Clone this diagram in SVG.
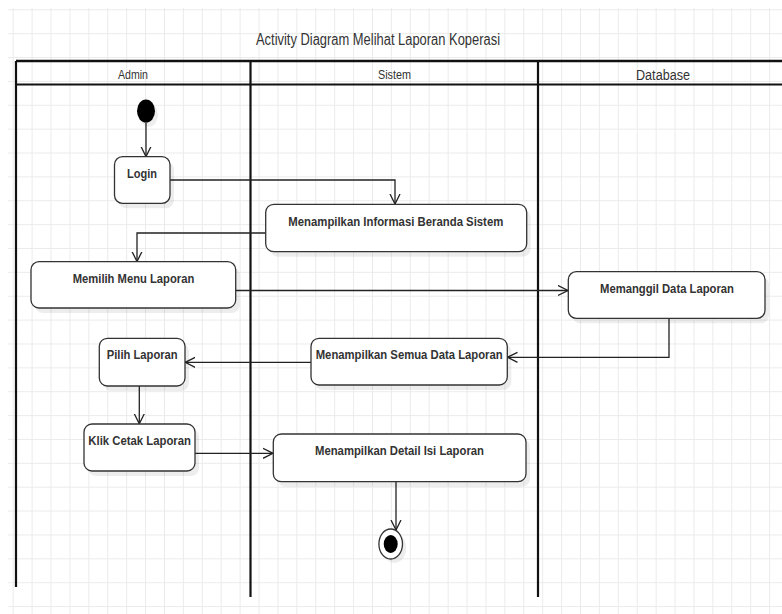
<svg xmlns="http://www.w3.org/2000/svg" width="782" height="614" viewBox="0 0 782 614">
<style>
.lane{stroke:#111;fill:none}
.box{fill:#fff;stroke:#333;stroke-width:1.3}
.shd{fill:#000;opacity:0.07}
.lbl{font-family:"Liberation Sans",Arial,sans-serif;font-weight:bold;font-size:13.5px;fill:#333;text-anchor:start}
.hdr{font-family:"Liberation Sans",Arial,sans-serif;fill:#333}
.con{stroke:#222;stroke-width:1.3;fill:none;marker-end:url(#arr)}
</style>
<defs>
<pattern id="grid" patternUnits="userSpaceOnUse" x="12.7" y="9.3" width="18.91" height="23.87">
<path d="M0.5,0 V23.87 M0,0.5 H18.91" stroke="#ebebeb" stroke-width="1" fill="none"/>
</pattern>
<marker id="arr" markerUnits="userSpaceOnUse" markerWidth="12" markerHeight="12" refX="10" refY="5" orient="auto" viewBox="0 0 12 10">
<path d="M0,0 L10,5 L0,10" fill="none" stroke="#222" stroke-width="1.3"/>
</marker>
</defs>
<rect x="0" y="0" width="782" height="614" fill="#fff"/>
<rect x="8" y="8" width="774" height="606" fill="url(#grid)"/>

<text class="hdr" x="256" y="45" font-size="16" textLength="244" lengthAdjust="spacingAndGlyphs">Activity Diagram Melihat Laporan Koperasi</text>

<g id="swimlanes">
<path class="lane" stroke-width="2.5" d="M16,61 H782"/>
<path class="lane" stroke-width="2" d="M16,84.5 H782"/>
<path class="lane" stroke-width="2.2" d="M16,61 V587"/>
<path class="lane" stroke-width="2.2" d="M250.5,61 V597"/>
<path class="lane" stroke-width="2.2" d="M538,61 V597"/>
<text class="hdr" x="118" y="79" font-size="12.5" textLength="30" lengthAdjust="spacingAndGlyphs">Admin</text>
<text class="hdr" x="378" y="79" font-size="12.5" textLength="33" lengthAdjust="spacingAndGlyphs">Sistem</text>
<text class="hdr" x="636" y="80" font-size="15.5" textLength="54" lengthAdjust="spacingAndGlyphs">Database</text>
</g>

<g id="connectors">
<path class="con" d="M146,122.5 V156.5"/>
<path class="con" d="M170,180 H395 V204"/>
<path class="con" d="M265.7,233 H137 V261.5"/>
<path class="con" d="M235.7,290.5 H568"/>
<path class="con" d="M669,318.3 V357.3 H507.5"/>
<path class="con" d="M311,362.3 H185.2"/>
<path class="con" d="M139.3,386 V423.8"/>
<path class="con" d="M195,453.3 H273"/>
<path class="con" d="M396,481.7 V530"/>
</g>

<g id="start">
<ellipse cx="149" cy="115" rx="9" ry="11.5" class="shd"/>
<ellipse cx="146" cy="111" rx="9" ry="11.5" fill="#000"/>
</g>

<g id="login">
<rect x="118.5" y="161.7" width="55.5" height="46.6" rx="8" class="shd"/>
<rect x="114.5" y="156.7" width="55.5" height="46.6" rx="8" class="box"/>
<text class="lbl" x="127" y="177.5" textLength="30" lengthAdjust="spacingAndGlyphs">Login</text>
</g>

<g id="informasi">
<rect x="269.7" y="209.3" width="261" height="47.4" rx="8" class="shd"/>
<rect x="265.7" y="204.3" width="261" height="47.4" rx="8" class="box"/>
<text class="lbl" x="288.3" y="226" textLength="215" lengthAdjust="spacingAndGlyphs">Menampilkan Informasi Beranda Sistem</text>
</g>

<g id="memilih">
<rect x="35" y="266.7" width="204.7" height="46.3" rx="8" class="shd"/>
<rect x="31" y="261.7" width="204.7" height="46.3" rx="8" class="box"/>
<text class="lbl" x="72.7" y="282.5" textLength="121.6" lengthAdjust="spacingAndGlyphs">Memilih Menu Laporan</text>
</g>

<g id="memanggil">
<rect x="572.3" y="276.7" width="196.7" height="46.6" rx="8" class="shd"/>
<rect x="568.3" y="271.7" width="196.7" height="46.6" rx="8" class="box"/>
<text class="lbl" x="600" y="292.5" textLength="134" lengthAdjust="spacingAndGlyphs">Memanggil Data Laporan</text>
</g>

<g id="semua">
<rect x="315" y="343.3" width="196.3" height="46.7" rx="8" class="shd"/>
<rect x="311" y="338.3" width="196.3" height="46.7" rx="8" class="box"/>
<text class="lbl" x="315.7" y="358.8" textLength="187" lengthAdjust="spacingAndGlyphs">Menampilkan Semua Data Laporan</text>
</g>

<g id="pilih">
<rect x="103.3" y="343.3" width="85.7" height="47.7" rx="8" class="shd"/>
<rect x="99.3" y="338.3" width="85.7" height="47.7" rx="8" class="box"/>
<text class="lbl" x="106.7" y="358.8" textLength="71" lengthAdjust="spacingAndGlyphs">Pilih Laporan</text>
</g>

<g id="klik">
<rect x="88" y="429" width="111" height="47" rx="8" class="shd"/>
<rect x="84" y="424" width="111" height="47" rx="8" class="box"/>
<text class="lbl" x="88.3" y="444.5" textLength="102.7" lengthAdjust="spacingAndGlyphs">Klik Cetak Laporan</text>
</g>

<g id="detail">
<rect x="277.3" y="439" width="252.7" height="47.7" rx="8" class="shd"/>
<rect x="273.3" y="434" width="252.7" height="47.7" rx="8" class="box"/>
<text class="lbl" x="315" y="454.5" textLength="169" lengthAdjust="spacingAndGlyphs">Menampilkan Detail Isi Laporan</text>
</g>

<g id="end">
<ellipse cx="394.5" cy="548" rx="11.8" ry="15" class="shd"/>
<ellipse cx="390.7" cy="544" rx="11.8" ry="15" fill="#fff" stroke="#333" stroke-width="1.3"/>
<ellipse cx="390.7" cy="544" rx="7" ry="9" fill="#000"/>
</g>
</svg>
